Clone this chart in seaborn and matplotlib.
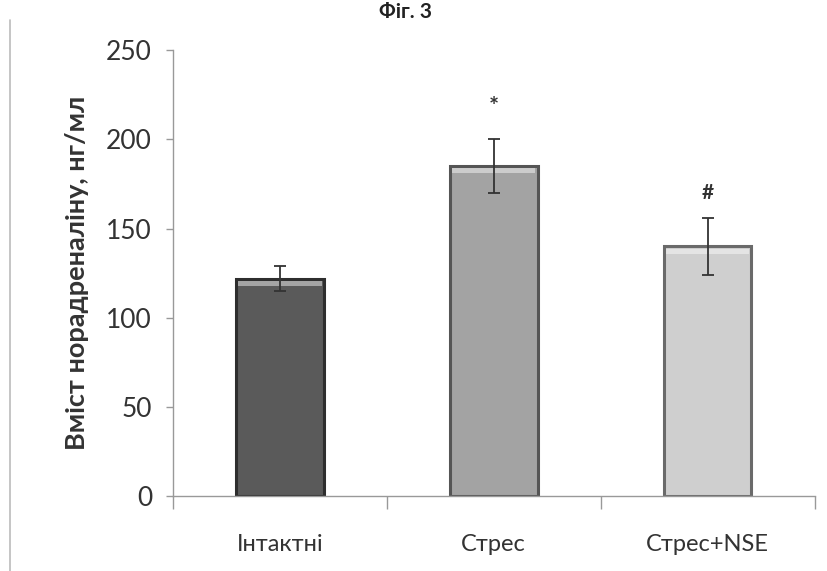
import matplotlib
matplotlib.use("Agg")
import matplotlib.pyplot as plt
import matplotlib.lines as mlines
import seaborn as sns
import pandas as pd
import numpy as np

# Data
groups = ["Інтактні", "Стрес", "Стрес+NSE"]
means = [122, 185, 140]
errors = [7, 15, 16]
marks = ["", "*", "#"]
bar_colors = ["#5a5a5a", "#a3a3a3", "#cfcfcf"]
edge_colors = ["#2e2e2e", "#555555", "#6a6a6a"]
yticks = [0, 50, 100, 150, 200, 250]

sns.set_theme(style="white")
plt.rcParams["font.family"] = ["Lato", "DejaVu Sans"]

df = pd.DataFrame({"group": groups, "value": means})

fig = plt.figure(figsize=(8.27, 5.71), dpi=100)
ax = fig.add_axes([0.209, 0.131, 0.776, 0.781])

sns.barplot(data=df, x="group", y="value", hue="group", palette=bar_colors,
            legend=False, width=0.41, errorbar=None, ax=ax, saturation=1)

for patch, ec in zip(ax.patches, edge_colors):
    patch.set_edgecolor(ec)
    patch.set_linewidth(2.2)
    # light strip along the top of each bar
    x0 = patch.get_x()
    w = patch.get_width()
    h = patch.get_height()
    ax.fill_between([x0 + 0.01, x0 + w - 0.01], h - 4, h - 1.2,
                    color="white", alpha=0.45, linewidth=0, zorder=3)

xs = np.arange(len(groups))
ax.errorbar(xs, means, yerr=errors, fmt="none", ecolor="#333333",
            elinewidth=1.3, capsize=4, capthick=1.3, zorder=4)

for x, m, e, s in zip(xs, means, errors, marks):
    if s:
        off = 18 if s == "*" else 14
        ax.text(x, m + e + off, s, ha="center", va="center",
                fontsize=17 if s == "*" else 15, color="#333333",
                fontweight="bold")

ax.set_ylim(0, 250)
ax.set_xlim(-0.5, 2.5)
ax.set_yticks(yticks)
ax.set_yticklabels([str(v) for v in yticks], fontsize=19, color="#333333")
ax.set_xticks(xs)
ax.set_xticklabels(groups, fontsize=17, color="#333333")
ax.set_xticks([-0.5, 0.5, 1.5, 2.5], minor=True)
ax.tick_params(axis="x", which="major", length=0, pad=27)
ax.tick_params(axis="x", which="minor", length=9, width=1, color="#999999",
               direction="out", bottom=True)
ax.tick_params(axis="y", which="major", length=5, width=1, color="#999999",
               direction="out", left=True, pad=10)

ax.set_xlabel("")
ax.set_ylabel("Вміст норадреналіну, нг/мл", fontsize=19.5, fontweight="bold",
              color="#333333", labelpad=12)

for side in ["top", "right"]:
    ax.spines[side].set_visible(False)
for side in ["left", "bottom"]:
    ax.spines[side].set_color("#999999")
    ax.spines[side].set_linewidth(1.0)

fig.text(0.49, 0.997, "Фіг. 3", ha="center", va="top", fontsize=15,
         fontweight="bold", color="#222222")

fig.add_artist(mlines.Line2D([0.012, 0.012], [0.0, 0.965],
                             transform=fig.transFigure, color="#bbbbbb",
                             linewidth=1.2))

fig.savefig("out.png", dpi=100, facecolor="white")
